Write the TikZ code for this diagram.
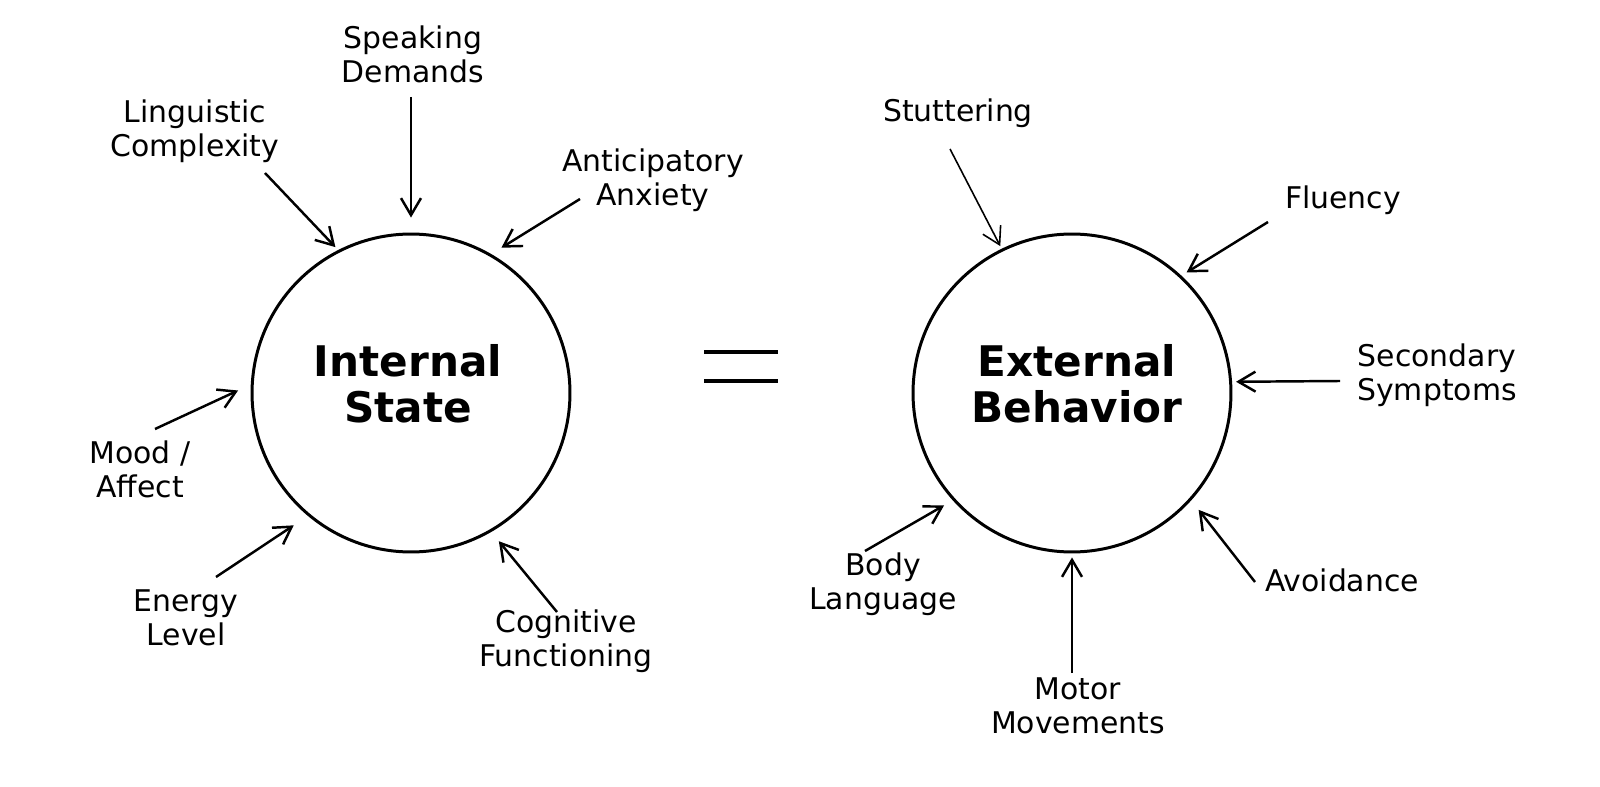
\documentclass[tikz,border=0pt]{standalone}
\usepackage{fontspec}
\setmainfont{DejaVu Sans}
\usepackage{tikz}
\usetikzlibrary{positioning, calc, arrows.meta}
\tikzstyle{Arrow} = [
line width=1.4pt,
-{Straight Barb[length=3.4mm, width=4mm]}]
\tikzstyle{Label} = [align=center, inner sep=0pt,
font=\fontsize{17}{19.5}\selectfont]
\tikzstyle{Hub} = [circle, draw, line width=1.7pt, minimum size=6.36cm, inner sep=0pt]
\tikzstyle{Title} = [align=center, inner sep=0pt,
font=\fontsize{24}{26}\selectfont\bfseries]

\begin{document}
\begin{tikzpicture}[x=0.02cm, y=-0.02cm]
    \useasboundingbox (0,0) rectangle (1600,787);
    \node [Hub] (1) at (411,393) {};
    \node [Hub] (2) at (1072,393) {};
    \node [Title] (15) at (408,384) {Internal\\State};
    \node [Title] (16) at (1077,384) {External\\Behavior};
    \draw [line width=2.2pt] (704,352) -- (778,352);
    \draw [line width=2.2pt] (704,381) -- (778,381);
    % left
    \node [Label] (3) at (413,54) {Speaking\\Demands};
    \node [Label] (4) at (195,131) {Linguistic\\Complexity};
    \node [Label] (5) at (653,180) {Anticipatory\\Anxiety};
    \node [Label] (6) at (140,469) {Mood /\\Affect};
    \node [Label] (7) at (186,618) {Energy\\Level};
    \node [Label] (8) at (566,641) {Cognitive\\Functioning};
    \coordinate (t3) at (411,97);  \coordinate (t4) at (265,173);
    \coordinate (t5) at (580,199); \coordinate (t6) at (155,429);
    \coordinate (t7) at (216,577); \coordinate (t8) at (557,612);
    \draw [Arrow, shorten >=0.3cm] (t3) to (1.90);
    \draw [Arrow, shorten >=0.08cm] (t4) to (1.117);
    \draw [Arrow, shorten >=0.24cm] (t5) to (1.60);
    \draw [Arrow, shorten >=0.28cm] (t6) to (1.177);
    \draw [Arrow, shorten >=0.34cm] (t7) to (1.230);
    \draw [Arrow, shorten >=0.24cm] (t8) to (1.300);
    % right
    \node [Label] (9) at (958,113) {Stuttering};
    \node [Label] (10) at (1343,200) {Fluency};
    \node [Label] (11) at (1437,375) {Secondary\\Symptoms};
    \node [Label] (12) at (883,584) {Body\\Language};
    \node [Label] (13) at (1078,706) {Motor\\Movements};
    \node [Label] (14) at (1342,580) {Avoidance};
    \coordinate (t9) at (950,149);   \coordinate (t10) at (1268,222);
    \coordinate (t11) at (1340,381); \coordinate (t12) at (865,551);
    \coordinate (t13) at (1072,673); \coordinate (t14) at (1255,582);
    \draw [Arrow, line width=0.9pt, shorten >=0.06cm] (t9) to (2.116);
    \draw [Arrow, shorten >=0.12cm] (t10) to (2.47);
    \draw [Arrow, shorten >=0.08cm] (t11) to (2.4);
    \draw [Arrow, shorten >=0.2cm] (t12) to (2.222);
    \draw [Arrow, shorten >=0.08cm] (t13) to (2.270);
    \draw [Arrow, shorten >=0.24cm] (t14) to (2.318);
\end{tikzpicture}
\end{document}
